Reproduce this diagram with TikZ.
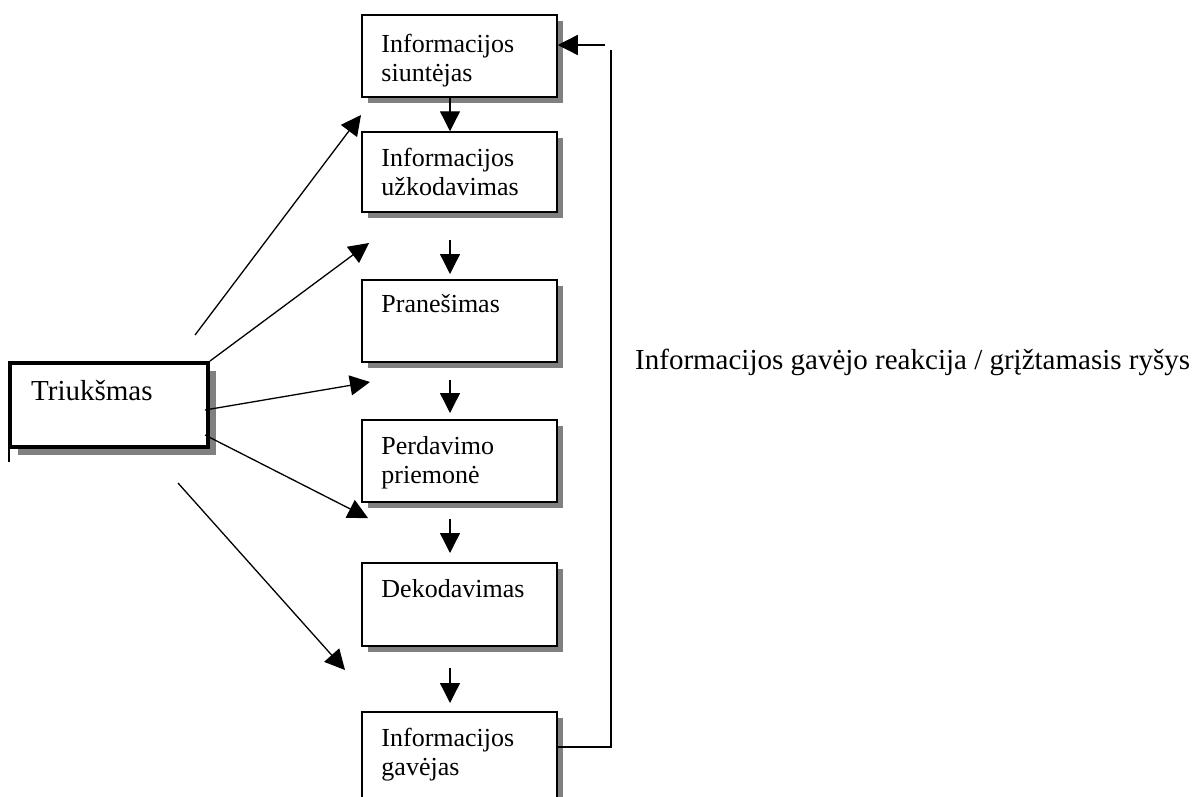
\documentclass[tikz,border=0pt]{standalone}
\usepackage{fontspec}
\setmainfont{Liberation Serif}
\usetikzlibrary{arrows.meta,shadows}
\begin{document}
\begin{tikzpicture}[x=1pt,y=-1pt,
  box/.style={draw, line width=1.5pt, fill=white, minimum width=195pt, minimum height=82pt, inner sep=0pt,
    drop shadow={shadow xshift=6pt, shadow yshift=-6pt, fill=black!50, opacity=1}},
  noisebox/.style={draw, line width=4pt, fill=white, minimum width=198pt, minimum height=84pt, inner sep=0pt,
    drop shadow={shadow xshift=8pt, shadow yshift=-8pt, fill=black!50, opacity=1}},
  tx/.style={anchor=base west, align=left, inner sep=0pt, font=\fontsize{26}{29}\selectfont},
  ln/.style={line width=1.3pt},
  arr/.style={line width=1.3pt, -{Triangle[length=20pt,width=20pt]}}]
\useasboundingbox (0,0) rectangle (1198,796);
\clip (0,0) rectangle (1198,796);

% main column of boxes
\node[box] (b1) at (459.5,56) {};
\node[box, minimum height=80pt] (b2) at (459.5,172) {};
\node[box] (b3) at (459.5,321) {};
\node[box] (b4) at (459.5,461) {};
\node[box, minimum height=83pt] (b5) at (459.5,604.5) {};
\node[box, minimum height=90pt] (b6) at (459.5,757) {};

% (base anchor of a two-line node is the baseline of its last line)
\node[tx] (t1) at ([xshift=20pt,yshift=-67pt]b1.north west) {Informacijos\\siuntėjas};
\node[tx] (t2) at ([xshift=20pt,yshift=-64pt]b2.north west) {Informacijos\\užkodavimas};
\node[tx] (t3) at ([xshift=20pt,yshift=-33pt]b3.north west) {Pranešimas};
\node[tx] (t4) at ([xshift=20pt,yshift=-64pt]b4.north west) {Perdavimo\\priemonė};
\node[tx] (t5) at ([xshift=20pt,yshift=-35pt]b5.north west) {Dekodavimas};
\node[tx] (t6) at ([xshift=20pt,yshift=-64pt]b6.north west) {Informacijos\\gavėjas};

% arrows between the boxes
\draw[arr] ([xshift=-9.5pt]b1.south) -- ([xshift=-9.5pt]b2.north);
\coordinate (a2s) at (450,240); \coordinate (a2e) at (450,274);
\coordinate (a3s) at (450,380); \coordinate (a3e) at (450,413);
\coordinate (a4s) at (450,519); \coordinate (a4e) at (450,553);
\coordinate (a5s) at (450,668); \coordinate (a5e) at (450,703);
\draw[arr] (a2s) -- (a2e);
\draw[arr] (a3s) -- (a3e);
\draw[arr] (a4s) -- (a4e);
\draw[arr] (a5s) -- (a5e);

% noise box
\node[noisebox] (t) at (109,405) {};
\node[anchor=base west, inner sep=0pt, font=\fontsize{29}{33}\selectfont] (tt) at ([xshift=23pt,yshift=-39pt]t.north west) {Triukšmas};
\draw[ln] ([xshift=1pt]t.south west) -- ++(0,13);

% noise arrows
\coordinate (n1s) at (195,335); \coordinate (n1e) at (361,115);
\coordinate (n2e) at (369,243);
\coordinate (n3e) at (370,382);
\coordinate (n4e) at (368,518);
\coordinate (n5s) at (178,483); \coordinate (n5e) at (345,670);
\draw[arr] (n1s) -- (n1e);
\draw[arr] (t.north east) -- (n2e);
\draw[arr] ([xshift=-5pt,yshift=-5pt]t.east) -- (n3e);
\draw[arr] ([xshift=-5pt,yshift=-30pt]t.east) -- (n4e);
\draw[arr] (n5s) -- (n5e);

% feedback
\coordinate (fbtop) at (611,50);
\coordinate (fbs) at (605,45);
\draw[ln] ([yshift=10pt]b6.east) -| (fbtop);
\draw[arr] (fbs) -- ([yshift=11pt]b1.east);

\node[anchor=base west, inner sep=0pt, font=\fontsize{29}{33}\selectfont] (fb) at (635,369) {Informacijos gavėjo reakcija / grįžtamasis ryšys};
\end{tikzpicture}
\end{document}
